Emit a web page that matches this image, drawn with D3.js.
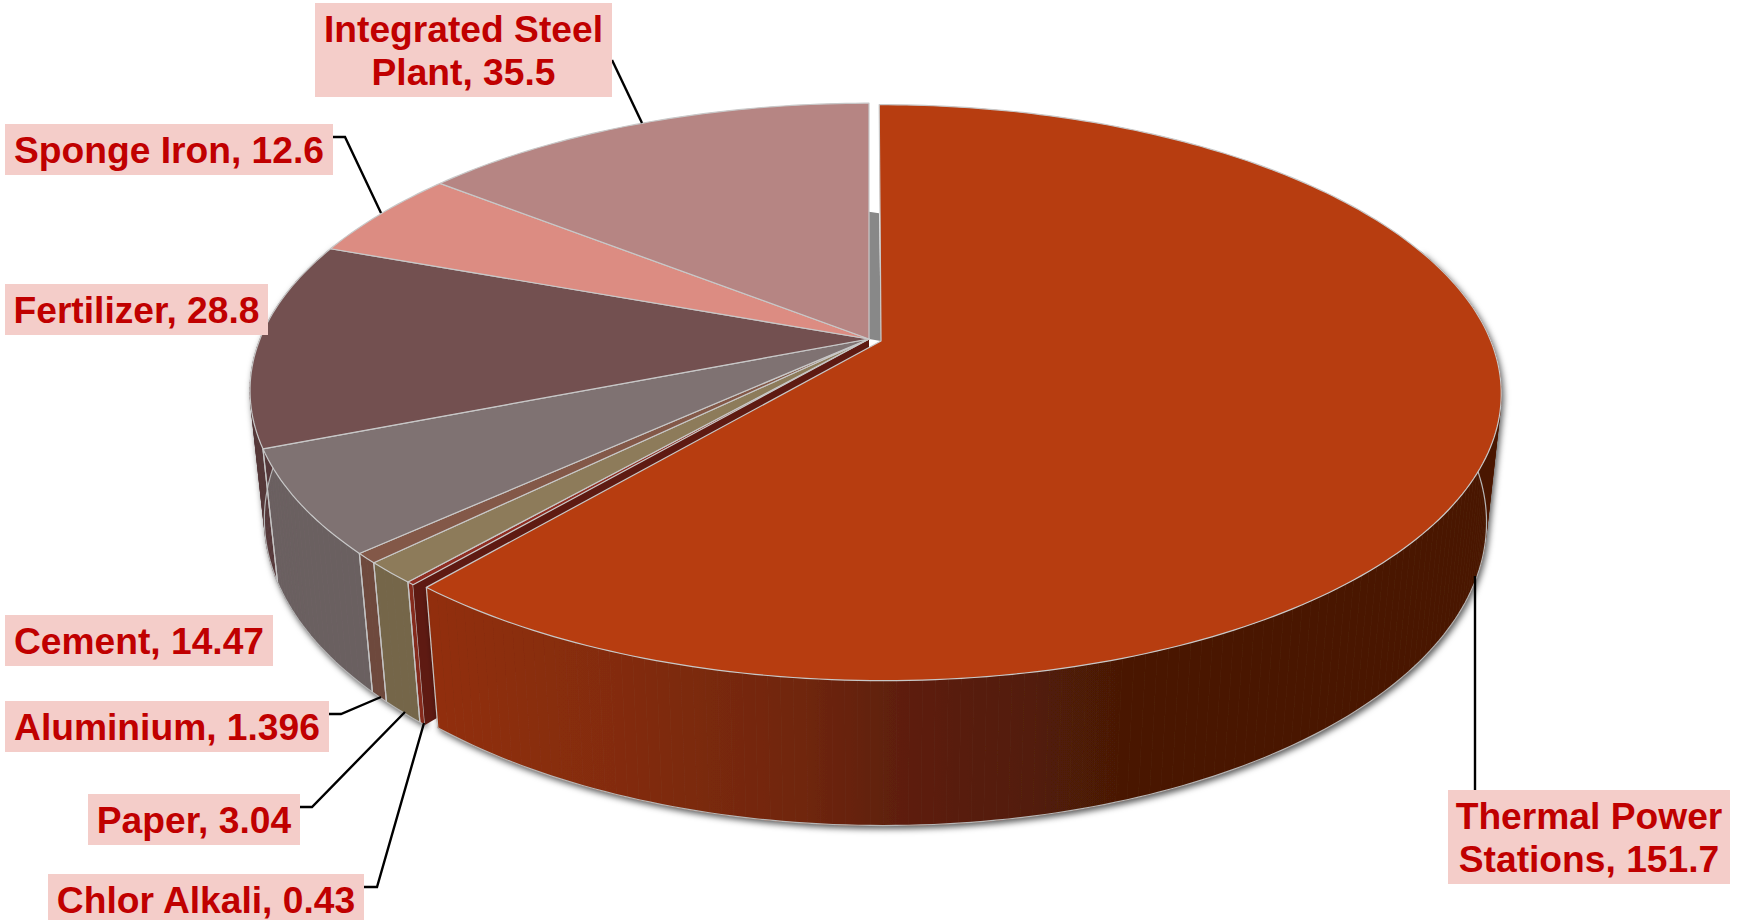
<!DOCTYPE html>
<html>
<head>
<meta charset="utf-8">
<title>Pie</title>
<script src="https://cdn.jsdelivr.net/npm/d3@7"></script>
<style>
  html, body { margin: 0; padding: 0; background: #fff; overflow: hidden; }
  text { font-family: "Liberation Sans", Arial, sans-serif; font-weight: bold; }
</style>
</head>
<body>
<svg id="chart" width="1744" height="920"></svg>
<script>
// Values, clockwise from 12 o'clock
const sectors = ['Thermal Power\nStations', 'Chlor Alkali', 'Paper', 'Aluminium', 'Cement', 'Fertilizer', 'Sponge Iron', 'Integrated Steel\nPlant'];
const amounts = [151.7, 0.43, 3.04, 1.396, 14.47, 28.8, 12.6, 35.5];

const topColors = ['#B73D10', '#8F2D22', '#8D7B5A', '#835848', '#7F7272', '#735050', '#DC8C82', '#B68583'];
const wallColors = ['#922F0C', '#85291E', '#75664A', '#6E4A3C', '#6B6061', '#56393A', '#B07068', '#8F6866'];
const cutFaceColor = '#5E1A12';

// Label boxes: x0, y0, x1, y1 and the leader line leaving each box
const labelBoxes = [
  { i: 0, box: [1448, 790, 1730, 884], leader: [[1475, 790], [1475, 576]] },
  { i: 1, box: [48, 874, 364, 925], leader: [[364, 887], [377, 887], [424, 723]] },
  { i: 2, box: [88, 794, 300, 845], leader: [[300, 807], [312, 807], [405, 712]] },
  { i: 3, box: [5, 701, 329, 752], leader: [[329, 714], [341, 714], [381, 697]] },
  { i: 4, box: [5, 615, 273, 666], leader: null },
  { i: 5, box: [5, 284, 268, 335], leader: null },
  { i: 6, box: [5, 124, 333, 175], leader: [[333, 137], [345, 137], [381, 213]] },
  { i: 7, box: [315, 3, 612, 97], leader: [[612, 60], [642, 123]] }
];

// Perspective projection of the disc
const apexX = 869, apexY = 339;
const radiusX = 609, radiusY = 278;
const persp = 0.179;      // how much nearer points grow
const thick = 130;        // height of the side wall
const wallShrink = 0.023; // bottom rim is further from the camera
const explode = 0.021;    // thermal slice pulled out of the pie

function project(theta, r, depth, du, dv) {
  const u = r * Math.sin(theta) + du;
  const v = -r * Math.cos(theta) + dv;
  const w = 1 - persp * v + wallShrink * depth;
  return [apexX + radiusX * u / w, apexY + (radiusY * v + thick * depth) / w];
}

const pie = d3.pie().sort(null).startAngle(0).endAngle(2 * Math.PI);
const slices = pie(amounts).map((d, i) => {
  const mid = (d.startAngle + d.endAngle) / 2;
  const pulled = i === 0 ? explode : 0;
  return { ...d, i, du: pulled * Math.sin(mid), dv: -pulled * Math.cos(mid) };
});

const line = d3.line();
const step = Math.PI / 180;

function arcAngles(d) {
  const a = d3.range(d.startAngle, d.endAngle, step);
  a.push(d.endAngle);
  return a;
}

const svg = d3.select('#chart');
const defs = svg.append('defs');
const shadow = defs.append('filter').attr('id', 'wallShadow')
  .attr('x', '-10%').attr('y', '-10%').attr('width', '120%').attr('height', '120%');
shadow.append('feDropShadow')
  .attr('dx', 2).attr('dy', 3).attr('stdDeviation', 3)
  .attr('flood-color', '#000').attr('flood-opacity', 0.65);

// Thermal wall goes from rust to almost black brown, left to right
const thermalStops = [[428, '#922F0C'], [620, '#832C0B'], [800, '#70260A'], [900, '#5E1F09'], [1120, '#4A1906']];
const thermalX = d3.scaleLinear().domain([428, 1120]).range([0, 1]);
defs.append('linearGradient').attr('id', 'thermalWall')
  .attr('gradientUnits', 'userSpaceOnUse')
  .attr('x1', 428).attr('y1', 0).attr('x2', 1120).attr('y2', 0)
  .selectAll('stop')
  .data(thermalStops)
  .join('stop')
  .attr('offset', s => thermalX(s[0]))
  .attr('stop-color', s => s[1]);

function wallQuads(d) {
  const a = arcAngles(d);
  const quads = [];
  for (let j = 0; j < a.length - 1; j++) {
    if (-Math.cos(a[j]) < -0.35) continue; // hidden behind the top face
    quads.push([
      project(a[j], 1, 0, d.du, d.dv),
      project(a[j + 1], 1, 0, d.du, d.dv),
      project(a[j + 1], 1, 1, d.du, d.dv),
      project(a[j], 1, 1, d.du, d.dv)
    ]);
  }
  return quads;
}

function drawWalls(g, d) {
  const paint = d.i === 0 ? 'url(#thermalWall)' : wallColors[d.i];
  g.selectAll(null)
    .data(wallQuads(d))
    .join('path')
    .attr('d', q => line(q) + 'Z')
    .attr('fill', paint)
    .attr('stroke', paint)
    .attr('stroke-width', 0.6);
}

function edgeLines(g, d) {
  // light outline along the bottom rim and the two vertical seams
  const a = arcAngles(d).filter(t => -Math.cos(t) > -0.35);
  if (!a.length) return;
  g.append('path')
    .attr('d', line(a.map(t => project(t, 1, 1, d.du, d.dv))))
    .attr('fill', 'none').attr('stroke', '#B5B5B5').attr('stroke-width', 1.2);
  [d.startAngle, d.endAngle].forEach(t => {
    if (-Math.cos(t) < -0.35) return;
    g.append('path')
      .attr('d', line([project(t, 1, 0, d.du, d.dv), project(t, 1, 1, d.du, d.dv)]))
      .attr('fill', 'none').attr('stroke', '#C4C4C4').attr('stroke-width', 1.2);
  });
}

function topFace(g, d) {
  const rim = arcAngles(d).map(t => project(t, 1, 0, d.du, d.dv));
  const apex = project(0, 0, 0, d.du, d.dv);
  g.append('path')
    .attr('d', line([apex, ...rim]) + 'Z')
    .attr('fill', topColors[d.i])
    .attr('stroke', '#C8C8C8')
    .attr('stroke-width', 1.2)
    .attr('stroke-linejoin', 'round');
}

const rest = slices.filter(d => d.i !== 0);
const thermal = slices[0];

// walls of the fixed slices
const wallsRest = svg.append('g').attr('filter', 'url(#wallShadow)');
rest.forEach(d => drawWalls(wallsRest, d));
const seamsRest = svg.append('g');
rest.forEach(d => edgeLines(seamsRest, d));

// the pulled out slice leaves the cut face of its neighbour visible
const cut = rest[0];
svg.append('path')
  .attr('d', line([
    project(0, 0, 0, 0, 0),
    project(cut.startAngle, 1, 0, 0, 0),
    project(cut.startAngle, 1, 1, 0, 0),
    project(0, 0, 1, 0, 0)
  ]) + 'Z')
  .attr('fill', cutFaceColor);

// grey inner wall seen through the gap at 12 o'clock
const backReach = 1.02;
svg.append('path')
  .attr('d', line([
    project(0, 0, 0, 0, 0),
    project(0, backReach, 1, 0, 0),
    project(0, backReach, 1, thermal.du, thermal.dv),
    project(0, 0, 0, thermal.du, thermal.dv)
  ]) + 'Z')
  .attr('fill', '#888888');

// thermal slice walls
const wallsThermal = svg.append('g').attr('filter', 'url(#wallShadow)');
drawWalls(wallsThermal, thermal);
edgeLines(svg.append('g'), thermal);

// top faces
const tops = svg.append('g');
rest.forEach(d => topFace(tops, d));
topFace(tops, thermal);

// labels
const labels = svg.append('g');
labelBoxes.forEach(l => {
  if (l.leader) {
    labels.append('path')
      .attr('d', line(l.leader))
      .attr('fill', 'none')
      .attr('stroke', '#000')
      .attr('stroke-width', 2.4);
  }
});
labelBoxes.forEach(l => {
  const [x0, y0, x1, y1] = l.box;
  labels.append('rect')
    .attr('x', x0).attr('y', y0)
    .attr('width', x1 - x0).attr('height', y1 - y0)
    .attr('fill', '#F4CDC9');
  const rows = (sectors[l.i] + ', ' + amounts[l.i]).split('\n');
  labels.append('text')
    .attr('text-anchor', 'middle')
    .attr('font-size', 37.2)
    .attr('fill', '#C00000')
    .selectAll('tspan')
    .data(rows)
    .join('tspan')
    .attr('x', (x0 + x1) / 2)
    .attr('y', (d, j) => y0 + 39 + j * 42.5)
    .text(d => d);
});
</script>
</body>
</html>
